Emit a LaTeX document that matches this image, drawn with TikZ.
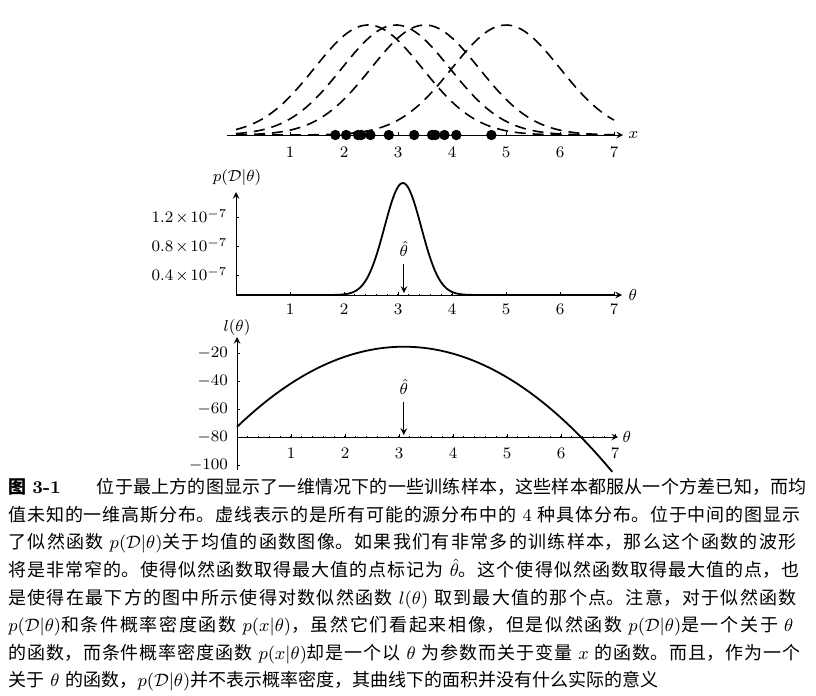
\documentclass[tikz,border=0pt]{standalone}
\usepackage{fontspec}
\newfontfamily\cjk{Noto Sans CJK SC}
\XeTeXlinebreaklocale "zh"
\XeTeXlinebreakskip=0pt plus 2pt
\begin{document}
\begin{tikzpicture}[x=0.5pt,y=-0.5pt,>=stealth,font=\fontsize{8}{9}\selectfont,
        axis/.style={line width=0.5pt},
        sourcecurve/.style={line width=0.8pt,dash pattern=on 5.5pt off 3.5pt},
        likecurve/.style={line width=0.9pt}]
    \useasboundingbox (0,0) rectangle (816,696);
    % Top: samples and four possible sources
    \begin{scope}[shift={(236,135)},x=27pt,y=0.5pt]
        \draw[axis,->] (-0.17,0) -- (7.17,0);
        \node (xl) at (7.36,0) {$x$};
        \foreach \i in {1,...,7} {
            \draw[axis] (\i,0) -- (\i,3);
            \node (xt\i) at (\i,-17) {\i};
        }
        \foreach \m in {2.45,2.96,3.5,5.0}
            \draw[sourcecurve] plot[domain=0:7,samples=90,smooth] (\x,{110*exp(-(\x-\m)^2/2)});
        \foreach \s in {1.84,2.04,2.26,2.32,2.49,2.83,3.30,3.63,3.69,3.86,4.08,4.73}
            \fill (\s,0) circle (2.6pt);
    \end{scope}
    % Middle: likelihood
    \begin{scope}[shift={(236,295)},x=27pt,y=0.5pt]
        \draw[axis,->] (0,0) -- (7.15,0);
        \draw[axis,->] (0,0) -- (0,103);
        \node (tm) at (7.35,0) {$\theta$};
        \node (pl) at (0.02,118) {$p(\mathcal{D}|\theta)$};
        \foreach \i in {1,...,7} {
            \draw[axis] (\i,0) -- (\i,3);
            \node (mt\i) at (\i,-14) {\i};
        }
        \foreach \i in {0.2,0.4,...,7} \draw[axis] (\i,0) -- (\i,1.5);
        \foreach \v/\h in {0.4/20,0.8/49,1.2/78} {
            \draw[axis] (0,\h) -- (0.06,\h);
            \node[anchor=east] (my\h) at (-0.03,\h) {$\v\mkern2mu{\times}\mkern2mu10^{-7}$};
        }
        \draw[likecurve] (0,0) -- (1.7,0)
            plot[domain=1.7:4.5,samples=80] (\x,{112*exp(-(\x-3.09)^2/(2*0.34^2))}) -- (7,0);
        \node (hm) at (3.11,46) {$\hat{\theta}$};
        \coordinate (am) at (3.11,2);
        \draw[axis,->] (hm) -- (am);
    \end{scope}
    % Bottom: log-likelihood
    \begin{scope}[shift={(237,437)},x=27pt,y=0.5pt]
        \draw[axis,->] (0,0) -- (7.06,0);
        \draw[axis,->] (0,-33) -- (0,100);
        \node (tb) at (7.22,0) {$\theta$};
        \node (ll) at (0,110) {$l(\theta)$};
        \foreach \i in {1,...,7} {
            \draw[axis] (\i,0) -- (\i,3);
            \node (bt\i) at (\i,-16) {\i};
        }
        \foreach \i in {0.2,0.4,...,7} \draw[axis] (\i,0) -- (\i,1.5);
        \foreach \l in {-20,-40,-60,-80,-100} {
            \draw[axis] (0,{(\l+80)*1.4}) -- (0.06,{(\l+80)*1.4});
            \node[anchor=east] (by\l) at (-0.04,{(\l+80)*1.4}) {$\l$};
        }
        \draw[likecurve] plot[domain=0:6.95,samples=60] (\x,{1.4*(64.5-6*(\x-3.09)^2)});
        \node (hb) at (3.09,50) {$\hat{\theta}$};
        \coordinate (ab) at (3.09,2);
        \draw[axis,->] (hb) -- (ab);
    \end{scope}
    % Caption
    \node[anchor=north west,inner sep=0pt,text width=400pt,font=\fontsize{9}{13.8}\selectfont\cjk] (cap) at (8,478) {%
        {\bfseries 图 \textrm{3-1}}\quad\quad 位于最上方的图显示了一维情况下的一些训练样本，这些样本都服从一个方差已知，而均\linebreak
        值未知的一维高斯分布。虚线表示的是所有可能的源分布中的 \textrm{4} 种具体分布。位于中间的图显示\linebreak
        了似然函数 $p(\mathcal{D}|\theta)$关于均值的函数图像。如果我们有非常多的训练样本，那么这个函数的波形\linebreak
        将是非常窄的。使得似然函数取得最大值的点标记为 $\hat{\theta}$。这个使得似然函数取得最大值的点，也\linebreak
        是使得在最下方的图中所示使得对数似然函数 $l(\theta)$ 取到最大值的那个点。注意，对于似然函数\linebreak
        $p(\mathcal{D}|\theta)$和条件概率密度函数 $p(x|\theta)$，虽然它们看起来相像，但是似然函数 $p(\mathcal{D}|\theta)$是一个关于 $\theta$\linebreak
        的函数，而条件概率密度函数 $p(x|\theta)$却是一个以 $\theta$ 为参数而关于变量 $x$ 的函数。而且，作为一个\linebreak
        关于 $\theta$ 的函数，$p(\mathcal{D}|\theta)$并不表示概率密度，其曲线下的面积并没有什么实际的意义};
\end{tikzpicture}
\end{document}
